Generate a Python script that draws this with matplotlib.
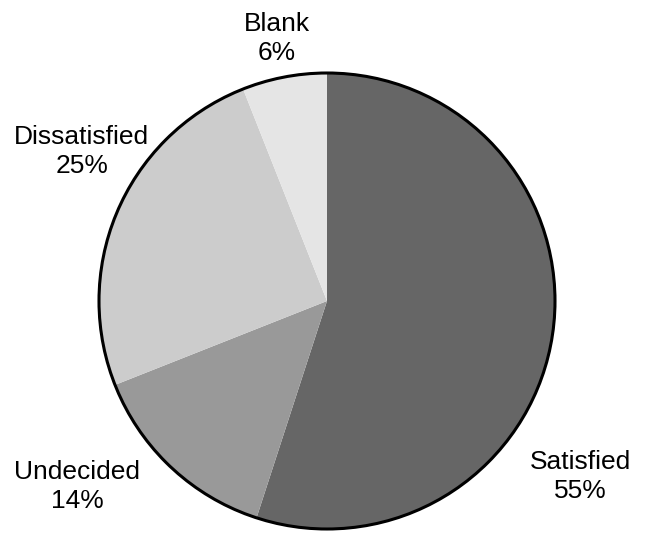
import matplotlib
matplotlib.use("Agg")
import matplotlib.pyplot as plt
from matplotlib.patches import Circle

# Survey responses
categories = ["Satisfied", "Undecided", "Dissatisfied", "Blank"]
percents = [55, 14, 25, 6]
colors = ["#666666", "#999999", "#cccccc", "#e5e5e5"]

# Label anchor points (in units of the pie radius, relative to its centre)
label_pos = {
    "Satisfied": (1.11, -0.77),
    "Undecided": (-1.096, -0.815),
    "Dissatisfied": (-1.075, 0.655),
    "Blank": (-0.219, 1.15),
}

W, H = 646, 533
cx, cy, R = 327, 301, 228  # pie centre and radius in pixels

fig = plt.figure(figsize=(W / 100, H / 100), dpi=100)
ax = fig.add_axes([0, 0, 1, 1])

# Wedges run clockwise from twelve o'clock
ax.pie(percents, colors=colors, startangle=90, counterclock=False,
       radius=1.0, center=(0, 0), frame=True,
       wedgeprops=dict(linewidth=0, antialiased=True))
ax.set_xlim(-cx / R, (W - cx) / R)
ax.set_ylim(-(H - cy) / R, cy / R)
ax.set_axis_off()

ax.add_patch(Circle((0, 0), 1.0, fill=False, edgecolor="black", linewidth=2.2))

for name, pct in zip(categories, percents):
    x, y = label_pos[name]
    ax.text(x, y, f"{name}\n{pct}%", ha="center", va="center",
            multialignment="center", fontsize=19,
            family="Liberation Sans", linespacing=1.28, color="black")

fig.savefig("out.png", dpi=100)
